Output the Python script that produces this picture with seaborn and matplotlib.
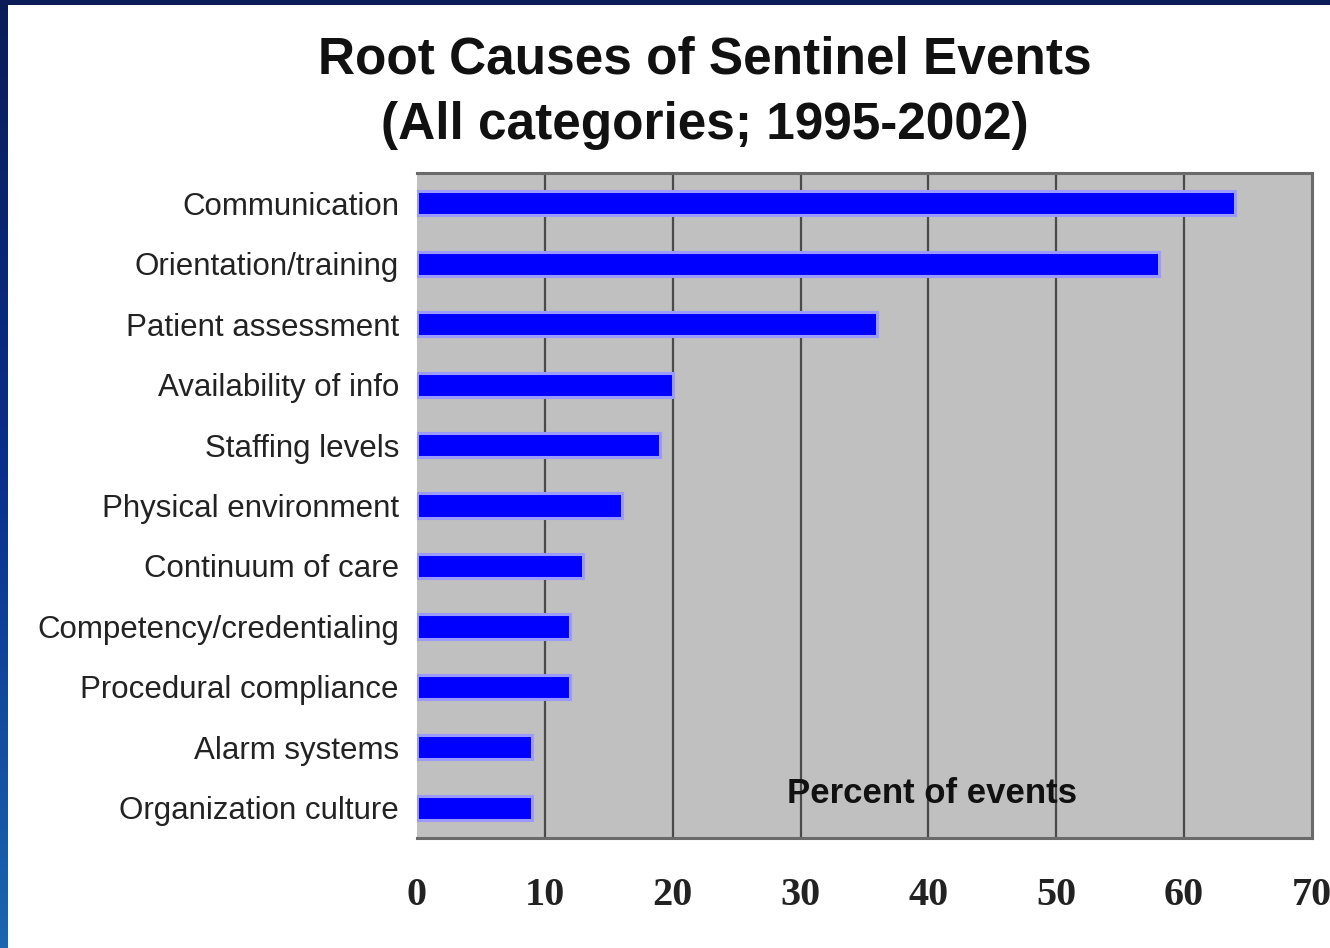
import numpy as np
import pandas as pd
import matplotlib
matplotlib.use("Agg")
import matplotlib.pyplot as plt
from matplotlib.patches import Rectangle
from matplotlib.colors import LinearSegmentedColormap
import seaborn as sns

# ---- data ----
causes = [
    "Communication",
    "Orientation/training",
    "Patient assessment",
    "Availability of info",
    "Staffing levels",
    "Physical environment",
    "Continuum of care",
    "Competency/credentialing",
    "Procedural compliance",
    "Alarm systems",
    "Organization culture",
]
percent = [64, 58, 36, 20, 19, 16, 13, 12, 12, 9, 9]
x_ticks = [0, 10, 20, 30, 40, 50, 60, 70]
title_line1 = "Root Causes of Sentinel Events"
title_line2 = "(All categories; 1995-2002)"
x_label_text = "Percent of events"

df = pd.DataFrame({"cause": causes, "percent": percent})

sns.set_theme(style="white")
plt.rcParams["font.family"] = ["Liberation Sans", "DejaVu Sans"]

fig = plt.figure(figsize=(13.3, 9.48), dpi=100)
fig.patch.set_facecolor("white")

ax = fig.add_axes([417 / 1330, 110 / 948, 895 / 1330, 665 / 948])
ax.set_facecolor("#c0c0c0")

sns.barplot(data=df, x="percent", y="cause", orient="h", color="#0000ff",
            width=0.4, saturation=1, edgecolor="#9a9aff", linewidth=2.2,
            ax=ax, zorder=3)

ax.set_xlim(0, 70)
ax.set_ylim(10.5, -0.5)
ax.set_xticks(x_ticks)
ax.set_xticklabels([str(t) for t in x_ticks], fontfamily="Liberation Serif",
                   fontweight="bold", fontsize=29, color="#222222")
ax.tick_params(axis="x", length=0, pad=28)
ax.tick_params(axis="y", length=0, pad=13)
for lab in ax.get_yticklabels():
    lab.set_fontsize(22.5)
    lab.set_color("#222222")
ax.set_xlabel("")
ax.set_ylabel("")

for xv in x_ticks[1:-1]:
    ax.axvline(xv, color="#4a4a4a", lw=1.6, zorder=1)

for side in ["top", "bottom", "right"]:
    ax.spines[side].set_visible(True)
    ax.spines[side].set_color("#6a6a6a")
    ax.spines[side].set_linewidth(2.2)
ax.spines["left"].set_visible(False)

ax.text(40.3, 9.77, x_label_text, ha="center", va="center",
        fontsize=25, fontweight="bold", color="#111111", zorder=4)

fig.text(0.53, 1 - 60 / 948, title_line1, ha="center", va="center",
         fontsize=37, fontweight="bold", color="#111111")
fig.text(0.53, 1 - 125 / 948, title_line2, ha="center", va="center",
         fontsize=37, fontweight="bold", color="#111111")

# slide border decoration
fig.patches.append(Rectangle((0, 1 - 5 / 948), 1, 5 / 948, transform=fig.transFigure,
                             facecolor="#0b1c58", edgecolor="none", zorder=10))
bax = fig.add_axes([0, 0, 8 / 1330, 1])
cmap = LinearSegmentedColormap.from_list("b", ["#0b1c58", "#0a2f8c", "#1a66b0"])
bax.imshow(np.linspace(0, 1, 256).reshape(-1, 1), aspect="auto", cmap=cmap)
bax.axis("off")

fig.savefig("out.png", dpi=100)
